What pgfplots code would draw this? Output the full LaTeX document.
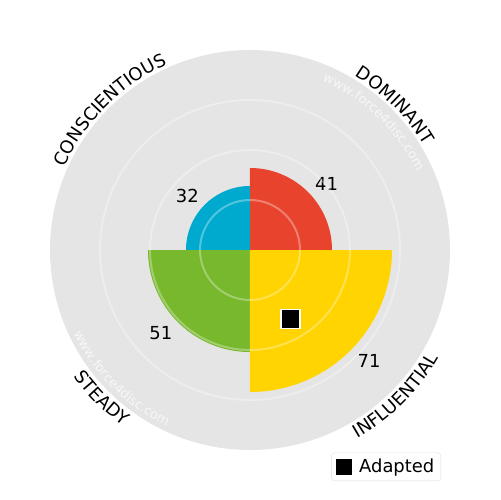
\documentclass[border=0pt]{standalone}
\usepackage{pgfplots}
\pgfplotsset{compat=1.18}
\usepgfplotslibrary{polar}
\usetikzlibrary{decorations.text}
\usepackage{fontspec}
\setmainfont{DejaVu Sans}

\definecolor{discbg}{HTML}{E5E5E5}
\definecolor{colD}{HTML}{E8432D}
\definecolor{colI}{HTML}{FFD400}
\definecolor{colS}{HTML}{77B82D}
\definecolor{colC}{HTML}{00AACF}

\newcommand{\bigfont}{\fontsize{18pt}{20pt}\selectfont}
\newcommand{\markfont}{\fontsize{13pt}{15pt}\selectfont}

\begin{document}
\begin{tikzpicture}[x=1bp,y=1bp]
\useasboundingbox (-250,-250) rectangle (250,250);
\begin{polaraxis}[
  at={(0,0)}, anchor=origin,
  width=400bp, height=400bp, scale only axis,
  xmin=0, xmax=360, ymin=0, ymax=100,
  xtick=\empty, ytick={25,50,75}, yticklabels={},
  major tick length=0pt,
  ymajorgrids, xmajorgrids=false,
  major grid style={white, opacity=0.32, line width=2bp},
  axis line style={draw=none},
  axis on top,
  clip=false,
  legend style={at={(0.9775,-0.0775)}, anchor=south east,
    draw=black!13, fill=white, rounded corners=3bp,
    font=\bigfont, inner xsep=4.5bp, inner ysep=4.5bp},
  legend cell align=left,
]
% background disk (full scale 0-100)
\addplot[fill=discbg, draw=none, domain=0:360, samples=241, forget plot] {100} -- cycle;
% quadrant bars: Dominant, Conscientious, Steady, Influential
\addplot[fill=colD, draw=none, domain=0:90, samples=91, forget plot] {41} -- (axis cs:0,0) -- cycle;
\addplot[fill=colC, draw=none, domain=90:180, samples=91, forget plot] {32} -- (axis cs:0,0) -- cycle;
\addplot[fill=colS, draw=none, domain=180:270, samples=91, forget plot] {51} -- (axis cs:0,0) -- cycle;
\addplot[fill=colI, draw=none, domain=270:360, samples=91, forget plot] {71} -- (axis cs:0,0) -- cycle;
% adapted profile point
\addplot[only marks, mark=square*, mark size=9.6bp,
  mark options={fill=black, draw=white, line width=1.6bp},
  legend image code/.code={
    \fill[black, draw=none, sharp corners] (0bp,-8bp) rectangle (16bp,8bp);
    \path[draw=none, fill=none] (16bp,0bp) -- (21bp,0bp);}]
  coordinates {(300.5,40)};
\addlegendentry{Adapted}
% value labels
\node[font=\bigfont] at (axis cs:41,50.7) {41};
\node[font=\bigfont] at (axis cs:139,41.5) {32};
\node[font=\bigfont] at (axis cs:223,61) {51};
\node[font=\bigfont] at (axis cs:317,81.4) {71};
% curved category names
\path[decorate, decoration={text along path, text align=center,
  text={|\bigfont|DOMINANT}}]
  (axis cs:0,0) ++(90:203bp) arc[start angle=90, end angle=0, radius=203bp];
\path[decorate, decoration={text along path, text align=center,
  text={|\bigfont|CONSCIENTIOUS}}]
  (axis cs:0,0) ++(180:203bp) arc[start angle=180, end angle=90, radius=203bp];
\path[decorate, decoration={text along path, text align=center,
  text={|\bigfont|STEADY}}]
  (axis cs:0,0) ++(180:217bp) arc[start angle=180, end angle=270, radius=217bp];
\path[decorate, decoration={text along path, text align=center,
  text={|\bigfont|INFLUENTIAL}}]
  (axis cs:0,0) ++(270:217bp) arc[start angle=270, end angle=360, radius=217bp];
% site marks
\path[decorate, decoration={text along path, text align=center,
  text={|\markfont\color{white!70!discbg}|www.force4disc.com}}]
  (axis cs:0,0) ++(92:184bp) arc[start angle=92, end angle=0, radius=184bp];
\path[decorate, decoration={text along path, text align=center,
  text={|\markfont\color{white!70!discbg}|www.force4disc.com}}]
  (axis cs:0,0) ++(180:195bp) arc[start angle=180, end angle=270, radius=195bp];
\end{polaraxis}
\end{tikzpicture}
\end{document}
